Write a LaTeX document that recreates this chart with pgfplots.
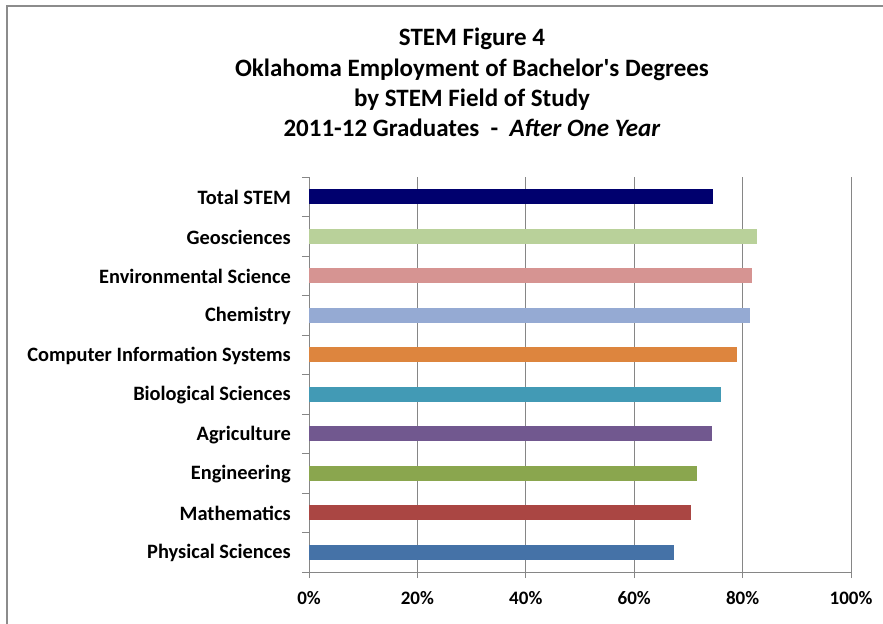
\documentclass[border=0pt]{standalone}
\usepackage{pgfplots}
\pgfplotsset{compat=1.18}
\usepackage{fontspec}
\setmainfont{Carlito}[Ligatures=TeXOff]
\definecolor{cTot}{RGB}{0,0,110}
\definecolor{cGeo}{RGB}{185,209,154}
\definecolor{cEnv}{RGB}{214,148,146}
\definecolor{cChe}{RGB}{149,170,211}
\definecolor{cCIS}{RGB}{221,133,62}
\definecolor{cBio}{RGB}{66,154,181}
\definecolor{cAgr}{RGB}{113,88,143}
\definecolor{cEng}{RGB}{138,166,78}
\definecolor{cMat}{RGB}{170,70,67}
\definecolor{cPhy}{RGB}{69,114,167}
\definecolor{frame}{RGB}{140,140,140}
\definecolor{gridc}{RGB}{134,134,134}
\begin{document}
\begin{tikzpicture}
\path[use as bounding box] (0,0) rectangle (883bp,624bp);
\draw[line width=1.7bp, frame] (6.7bp,0) -- (6.7bp,618.3bp) -- (883bp,618.3bp);
\begin{scope}[every node/.style={anchor=base, inner sep=0pt, font=\fontsize{25bp}{30bp}\selectfont\bfseries}]
\node at (472bp,578bp) {STEM Figure 4};
\node at (472bp,547bp) {Oklahoma Employment of Bachelor's Degrees};
\node at (472bp,517bp) {by STEM Field of Study};
\node at (472bp,487bp) {2011-12 Graduates\ \ -\ \ \textit{After One Year}};
\end{scope}
\begin{axis}[
  at={(309bp,52bp)}, anchor=south west,
  scale only axis, width=542bp, height=395bp,
  xmin=0, xmax=100, ymin=-0.5, ymax=9.5,
  axis lines=left, axis line style={-, draw=gridc, line width=0.9bp},
  xtick={0,20,...,100},
  xticklabel={\pgfmathprintnumber{\tick}\%},
  /pgf/number format/assume math mode=true,
  xticklabel style={font=\fontsize{19bp}{22bp}\selectfont\bfseries, anchor=base, inner sep=0pt, yshift=-26.5bp},
  ytick={0,...,9},
  yticklabels={Physical Sciences, Mathematics, Engineering, Agriculture, Biological Sciences, Computer Information Systems, Chemistry, Environmental Science, Geosciences, Total STEM},
  yticklabel style={font=\fontsize{20.4bp}{23bp}\selectfont\bfseries, anchor=east, inner sep=0pt, xshift=-12bp, yshift=-1bp},
  minor ytick={-0.5,0.5,...,9.5},
  major y tick style={draw=none},
  tick align=outside,
  major tick length=6bp, minor tick length=7bp,
  tick style={draw=gridc, line width=0.9bp},
  xmajorgrids, major x grid style={draw=gridc, line width=0.9bp},
  clip=false,
]
\addplot[xbar, bar shift=0pt, bar width=15.3bp, fill=cPhy, draw=none] coordinates {(67.3,0)};
\addplot[xbar, bar shift=0pt, bar width=15.3bp, fill=cMat, draw=none] coordinates {(70.5,1)};
\addplot[xbar, bar shift=0pt, bar width=15.3bp, fill=cEng, draw=none] coordinates {(71.5,2)};
\addplot[xbar, bar shift=0pt, bar width=15.3bp, fill=cAgr, draw=none] coordinates {(74.3,3)};
\addplot[xbar, bar shift=0pt, bar width=15.3bp, fill=cBio, draw=none] coordinates {(76.0,4)};
\addplot[xbar, bar shift=0pt, bar width=15.3bp, fill=cCIS, draw=none] coordinates {(78.9,5)};
\addplot[xbar, bar shift=0pt, bar width=15.3bp, fill=cChe, draw=none] coordinates {(81.4,6)};
\addplot[xbar, bar shift=0pt, bar width=15.3bp, fill=cEnv, draw=none] coordinates {(81.7,7)};
\addplot[xbar, bar shift=0pt, bar width=15.3bp, fill=cGeo, draw=none] coordinates {(82.6,8)};
\addplot[xbar, bar shift=0pt, bar width=15.3bp, fill=cTot, draw=none] coordinates {(74.5,9)};
\end{axis}
\end{tikzpicture}
\end{document}
